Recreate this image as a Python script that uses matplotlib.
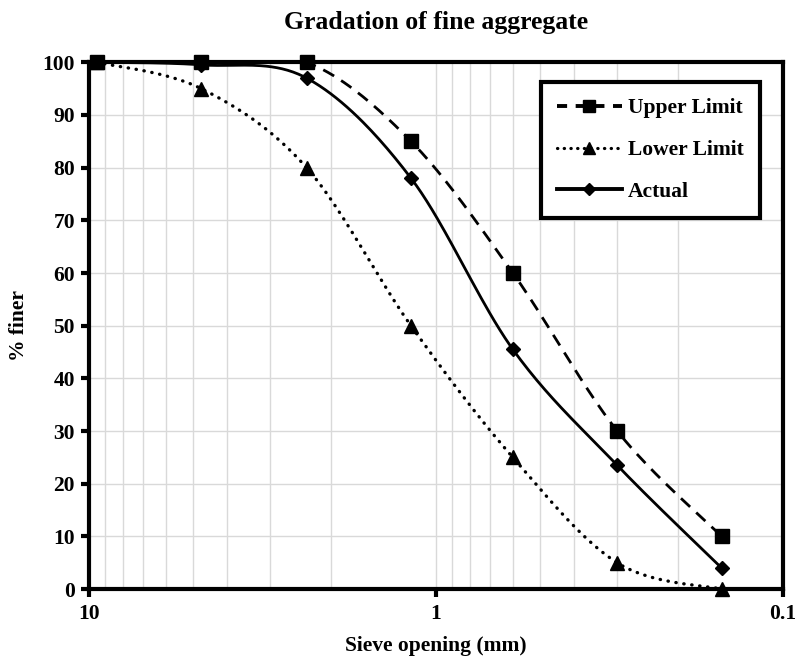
import numpy as np
import matplotlib
matplotlib.use("Agg")
import matplotlib.pyplot as plt
from matplotlib.lines import Line2D
from matplotlib.ticker import FixedLocator, NullFormatter, FixedFormatter

plt.rcParams['font.family'] = ['Liberation Serif', 'DejaVu Serif']
plt.rcParams['font.weight'] = 'bold'

sieve = [9.5, 4.75, 2.36, 1.18, 0.6, 0.3, 0.15]
upper = [100, 100, 100, 85, 60, 30, 10]
lower = [100, 95, 80, 50, 25, 5, 0]
actual = [100, 99.5, 97, 78, 45.5, 23.5, 4]
y_ticks = [0, 10, 20, 30, 40, 50, 60, 70, 80, 90, 100]
x_major = [10, 1, 0.1]
x_labels = ['10', '1', '0.1']


def smooth(xs, ys, sx=347.0, sy=5.27, n=40):
    # Excel-like smoothed line (Catmull-Rom Bezier) in display-like space
    P = np.column_stack([-np.log10(xs) * sx, np.asarray(ys, float) * sy])
    out = [P[0]]
    m = len(P)
    for i in range(m - 1):
        p0 = P[i - 1] if i > 0 else P[i]
        p1 = P[i]
        p2 = P[i + 1]
        p3 = P[i + 2] if i + 2 < m else P[i + 1]
        c1 = p1 + (p2 - p0) / 6.0
        c2 = p2 - (p3 - p1) / 6.0
        t = np.linspace(0, 1, n)[1:, None]
        seg = ((1 - t) ** 3) * p1 + 3 * ((1 - t) ** 2) * t * c1 + 3 * (1 - t) * t ** 2 * c2 + t ** 3 * p2
        out.extend(seg)
    out = np.array(out)
    return 10 ** (-out[:, 0] / sx), out[:, 1] / sy


fig = plt.figure(figsize=(7.98, 6.62), dpi=100)
ax = fig.add_axes([0.1115, 0.110, 0.8695, 0.796])

ax.set_xscale('log')
ax.set_xlim(10, 0.1)
ax.set_ylim(0, 100)

grid_c = '#d9d9d9'
ax.grid(True, which='major', axis='y', color=grid_c, lw=1.0)
ax.grid(True, which='both', axis='x', color=grid_c, lw=1.0)
ax.set_axisbelow(True)

lw = 2.0
ux, uy = smooth(sieve, upper)
ax.plot(ux, uy, color='black', lw=lw, linestyle=(0, (4.5, 3.0)), dash_capstyle='butt')
lx, ly = smooth(sieve, lower)
ax.plot(lx, ly, color='black', lw=2.4, linestyle=(0, (0.1, 2.3)), dash_capstyle='round')
axx, ayy = smooth(sieve, actual)
ax.plot(axx, ayy, color='black', lw=lw, linestyle='-')

ax.plot(sieve, upper, linestyle='none', marker='s', ms=10.5, color='black', clip_on=False, zorder=5)
ax.plot(sieve, lower, linestyle='none', marker='^', ms=10.5, color='black', clip_on=False, zorder=5)
ax.plot(sieve, actual, linestyle='none', marker='D', ms=7.5, color='black', clip_on=False, zorder=5)

for s in ax.spines.values():
    s.set_linewidth(3.0)
    s.set_color('black')

ax.xaxis.set_major_locator(FixedLocator(x_major))
ax.xaxis.set_major_formatter(FixedFormatter(x_labels))
ax.xaxis.set_minor_formatter(NullFormatter())
ax.tick_params(axis='x', which='major', length=6, width=3, labelsize=15.5, pad=5)
ax.tick_params(axis='x', which='minor', length=0)
ax.set_yticks(y_ticks)
ax.tick_params(axis='y', which='major', length=6, width=3, labelsize=15.5, pad=4)
for lab in ax.get_xticklabels() + ax.get_yticklabels():
    lab.set_fontweight('bold')

ax.set_title('Gradation of fine aggregate', fontsize=18.5, fontweight='bold', pad=24)
ax.set_xlabel('Sieve opening (mm)', fontsize=15.5, fontweight='bold', labelpad=8)
ax.set_ylabel('% finer', fontsize=15.5, fontweight='bold', labelpad=10)

handles = [
    Line2D([], [], color='black', lw=lw + 0.8, linestyle=(0, (2.6, 2.2)), marker='s', ms=9),
    Line2D([], [], color='black', lw=2.3, linestyle=(0, (0.1, 2.0)), dash_capstyle='round', marker='^', ms=9),
    Line2D([], [], color='black', lw=lw + 0.8, linestyle='-', marker='D', ms=6.5),
]
leg = ax.legend(handles, ['Upper Limit', 'Lower Limit', 'Actual'], loc='upper right',
                bbox_to_anchor=(0.967, 0.962), borderaxespad=0, fontsize=15.5, frameon=True,
                fancybox=False, edgecolor='black', framealpha=1, handlelength=3.0,
                labelspacing=1.0, borderpad=0.75, handletextpad=0.3)
leg.get_frame().set_linewidth(3.0)
for t in leg.get_texts():
    t.set_fontweight('bold')

fig.savefig('out.png', dpi=100)
